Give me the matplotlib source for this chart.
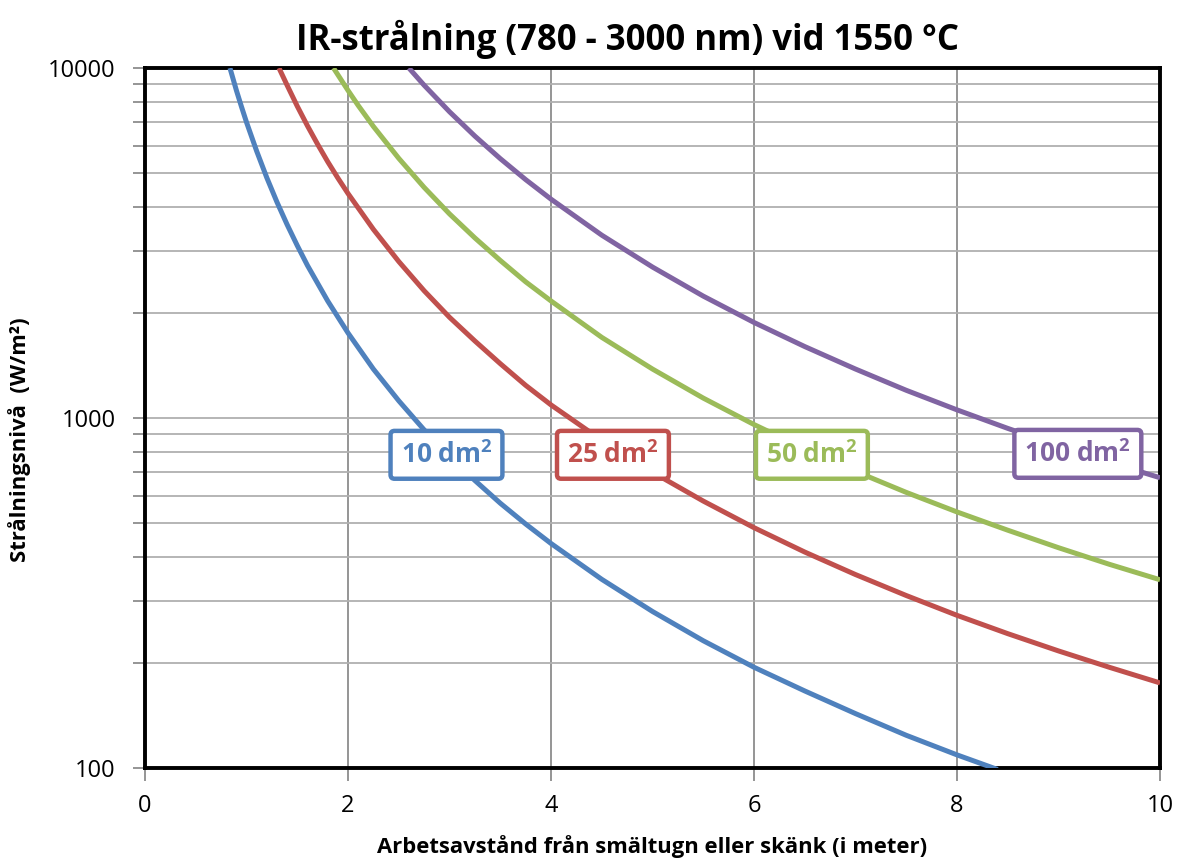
import matplotlib
matplotlib.use("Agg")
import matplotlib.pyplot as plt
from matplotlib.ticker import LogLocator, NullFormatter, FixedLocator

plt.rcParams['font.family'] = ['Open Sans', 'DejaVu Sans']
plt.rcParams['mathtext.fontset'] = 'custom'
plt.rcParams['mathtext.bf'] = 'Open Sans:bold'
plt.rcParams['mathtext.rm'] = 'Open Sans'

x_10 = [0.837, 0.9, 0.95, 1.0, 1.1, 1.2, 1.3, 1.4, 1.5, 1.6, 1.8, 2.0, 2.25, 2.5, 2.75, 3.0, 3.25, 3.5, 3.75,
        4.0, 4.5, 5.0, 5.5, 6.0, 6.5, 7.0, 7.5, 8.0, 8.4]
y_10 = [10000, 8640, 7760, 7000, 5790, 4860, 4140, 3570, 3110, 2730, 2160, 1750, 1380, 1120, 925, 778, 663, 571, 498,
        438, 346, 280, 231, 194, 166, 143, 124, 109, 99]

x_25 = [1.32, 1.4, 1.5, 1.6, 1.7, 1.8, 1.9, 2.0, 2.25, 2.5, 2.75, 3.0, 3.25, 3.5, 3.75, 4.0, 4.5, 5.0, 5.5,
        6.0, 6.5, 7.0, 7.5, 8.0, 8.5, 9.0, 9.5, 10.0]
y_25 = [10000, 8930, 7780, 6840, 6060, 5400, 4850, 4380, 3460, 2800, 2310, 1940, 1660, 1430, 1240, 1090, 864, 700, 579,
        486, 414, 357, 311, 273, 242, 216, 194, 175]

x_50 = [1.857, 2.0, 2.1, 2.25, 2.5, 2.75, 3.0, 3.25, 3.5, 3.75, 4.0, 4.5, 5.0, 5.5, 6.0, 6.5, 7.0, 7.5, 8.0,
        8.5, 9.0, 9.5, 10.0]
y_50 = [10000, 8630, 7820, 6810, 5520, 4560, 3830, 3270, 2820, 2450, 2160, 1700, 1380, 1140, 958, 817, 704, 613, 539,
        478, 426, 382, 345]

x_100 = [2.6, 2.75, 3.0, 3.25, 3.5, 3.75, 4.0, 4.5, 5.0, 5.5, 6.0, 6.5, 7.0, 7.5, 8.0, 8.5, 9.0, 9.5, 10.0]
y_100 = [10000, 8930, 7500, 6390, 5510, 4800, 4220, 3330, 2700, 2230, 1875, 1600, 1380, 1200, 1055, 934, 833, 748, 675]

labels = [r"10 dm$^\mathbf{2}$", r"25 dm$^\mathbf{2}$", r"50 dm$^\mathbf{2}$", r"100 dm$^\mathbf{2}$"]
label_x = [2.97, 4.61, 6.57, 9.19]
label_y = [785, 785, 785, 790]
colors = ["#4F81BD", "#C0504D", "#9BBB59", "#8064A2"]

fig = plt.figure(figsize=(11.77, 8.58), dpi=100)
ax = fig.add_axes([0.1232, 0.1049, 0.8624, 0.8158])

series = [(x_10, y_10), (x_25, y_25), (x_50, y_50), (x_100, y_100)]
for (xs, ys), c in zip(series, colors):
    ax.plot(xs, ys, color=c, lw=3.6, solid_capstyle='butt', solid_joinstyle='round', zorder=3)

for lab, lx, ly, c in zip(labels, label_x, label_y, colors):
    ax.text(lx, ly, lab, color=c, fontsize=19, fontweight='bold', ha='center', va='center', zorder=5,
            bbox=dict(boxstyle='round,pad=0.38,rounding_size=0.15', fc='white', ec=c, lw=3.2))

ax.set_yscale('log')
ax.set_xlim(0, 10)
ax.set_ylim(100, 10000)
ax.xaxis.set_major_locator(FixedLocator([0, 2, 4, 6, 8, 10]))
ax.yaxis.set_major_locator(LogLocator(base=10))
ax.yaxis.set_minor_locator(LogLocator(base=10, subs=range(2, 10)))
ax.yaxis.set_minor_formatter(NullFormatter())
ax.set_yticks([100, 1000, 10000])
ax.set_yticklabels(["100", "1000", "10000"])

ax.grid(True, which='major', axis='x', color='#8c8c8c', lw=1.3, zorder=1)
ax.grid(True, which='both', axis='y', color='#b0b0b0', lw=1.3, zorder=1)
ax.set_axisbelow(True)

for s in ax.spines.values():
    s.set_linewidth(2.8)
    s.set_color('black')

ax.tick_params(axis='both', which='both', direction='out', color='#8c8c8c', width=1.3, labelsize=17)
ax.tick_params(axis='y', which='major', length=9, pad=12)
ax.tick_params(axis='y', which='minor', length=9)
ax.tick_params(axis='x', which='major', length=9, pad=10)

ax.set_xlabel("Arbetsavstånd från smältugn eller skänk (i meter)", fontsize=15.8, fontweight='bold', labelpad=12)
fig.text(20 / 1177, 0.488, "Strålningsnivå  (W/m²)", fontsize=15.8, fontweight='bold', rotation=90,
         ha='center', va='center')

fig.text(0.533, 0.954, "IR-strålning (780 - 3000 nm) vid 1550 °C", fontsize=25, fontweight='bold',
         ha='center', va='center')

fig.savefig("out.png", dpi=100)
